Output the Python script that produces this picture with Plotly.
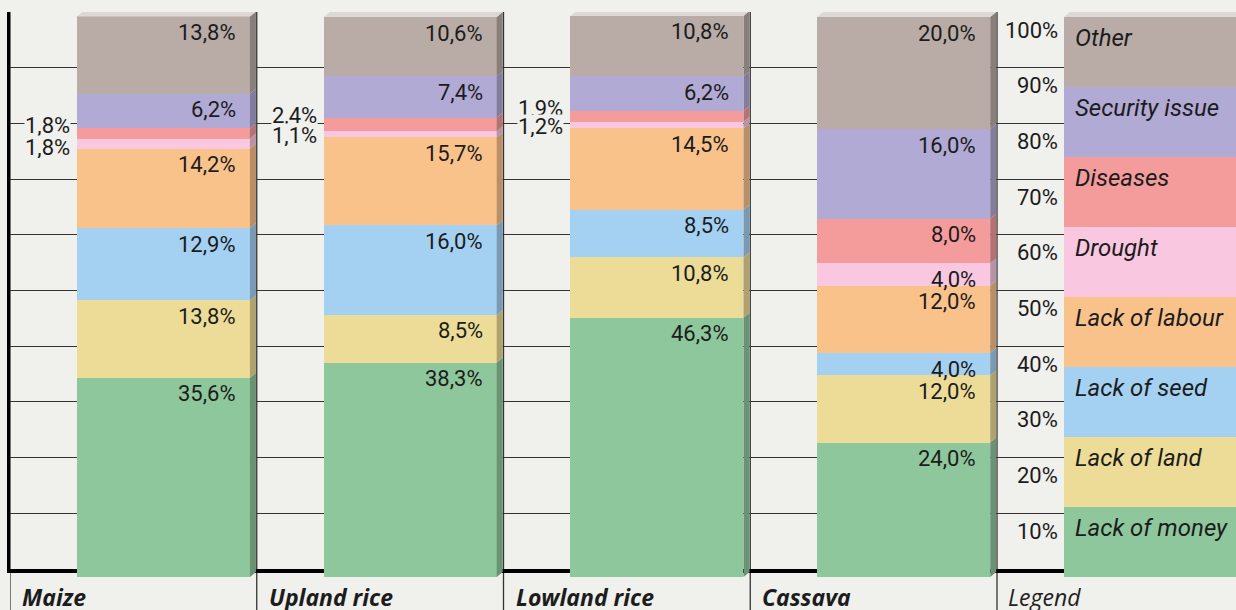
import plotly.graph_objects as go

# ---------------- data ----------------
crops = ["Maize", "Upland rice", "Lowland rice", "Cassava"]
causes = ["Lack of money", "Lack of land", "Lack of seed", "Lack of labour",
          "Drought", "Diseases", "Security issue", "Other"]
lack_of_money = [35.6, 38.3, 46.3, 24.0]
lack_of_land = [13.8, 8.5, 10.8, 12.0]
lack_of_seed = [12.9, 16.0, 8.5, 4.0]
lack_of_labour = [14.2, 15.7, 14.5, 12.0]
drought = [1.8, 1.1, 1.2, 4.0]
diseases = [1.8, 2.4, 1.9, 8.0]
security_issue = [6.2, 7.4, 6.2, 16.0]
other = [13.8, 10.6, 10.8, 20.0]
series = [lack_of_money, lack_of_land, lack_of_seed, lack_of_labour,
          drought, diseases, security_issue, other]
legend_share = [12.5] * 8
legend_ticks = [10, 20, 30, 40, 50, 60, 70, 80, 90, 100]

colors = ["#8ec79b", "#eddc97", "#a4d1f1", "#f9c28b",
          "#f9c7df", "#f49b9b", "#b1aad4", "#b9aba6"]
BG = "#f0f0ec"
TXT = "#1c1c1c"
FONT = "Roboto"
FONT_B = "Open Sans"

# ---------------- geometry (styling) ----------------
XMAX = 1226 / 246.75
BAR_C = 0.622
BAR_W = 0.701
DX = 0.0243
DY = 0.89


def darker(h, f=0.74):
    h = h.lstrip("#")
    r, g, b = (int(h[i:i + 2], 16) for i in (0, 2, 4))
    return "#%02x%02x%02x" % (int(r * f), int(g * f), int(b * f))


def fmt(v):
    return ("%.1f" % v).replace(".", ",") + "%"


xs = [i + BAR_C for i in range(len(crops) + 1)]

fig = go.Figure()
for k, name in enumerate(causes):
    fig.add_trace(go.Bar(
        x=xs, y=series[k] + [legend_share[k]], width=BAR_W, name=name,
        marker=dict(color=colors[k], line=dict(width=0)),
        xaxis="x", yaxis="y2", showlegend=False, hoverinfo="skip"))

shapes = []
annotations = []

# separators
for i in range(len(crops) + 1):
    shapes.append(dict(type="line", xref="x", yref="paper", x0=i, x1=i,
                       y0=-0.07, y1=1.0, line=dict(color="#333", width=1.3),
                       layer="below"))

all_cols = [[s[i] for s in series] for i in range(len(crops))] + [legend_share]
for i, col in enumerate(all_cols):
    xl = xs[i] - BAR_W / 2
    xr = xs[i] + BAR_W / 2
    cum = 0.0
    tops = []
    for k, v in enumerate(col):
        c0, c1 = cum, cum + v
        tops.append((c0, c1))
        shapes.append(dict(
            type="path", xref="x", yref="y2", layer="above", line=dict(width=0),
            fillcolor=darker(colors[k]),
            path="M %f,%f L %f,%f L %f,%f L %f,%f Z" % (
                xr, c0, xr + DX, c0 + DY, xr + DX, c1 + DY, xr, c1)))
        cum = c1
    # top face
    shapes.append(dict(
        type="path", xref="x", yref="y2", layer="above", line=dict(width=0),
        fillcolor="#dcd8d4",
        path="M %f,%f L %f,%f L %f,%f L %f,%f Z" % (
            xl, cum, xl + DX, cum + DY, xr + DX, cum + DY, xr, cum)))

    if i < len(crops):
        for k, v in enumerate(col):
            c0, c1 = tops[k]
            if v >= 3:
                annotations.append(dict(
                    xref="x", yref="y2", x=xr, y=c1, xanchor="right",
                    yanchor="middle", xshift=-12, yshift=-16, showarrow=False,
                    text=fmt(v), font=dict(family=FONT, size=22, color=TXT)))
        # small values placed outside on the left
        d_idx, dis_idx = 4, 5
        if col[dis_idx] < 3:
            annotations.append(dict(
                xref="x", yref="y2", x=xl, y=tops[dis_idx][1], xanchor="right",
                yanchor="middle", xshift=-6, yshift=3, showarrow=False,
                text=fmt(col[dis_idx]), bgcolor=BG, borderpad=0, height=22,
                font=dict(family=FONT, size=22, color=TXT)))
        if col[d_idx] < 3:
            annotations.append(dict(
                xref="x", yref="y2", x=xl, y=tops[d_idx][0], xanchor="right",
                yanchor="middle", xshift=-6, yshift=2, showarrow=False,
                text=fmt(col[d_idx]), bgcolor=BG, borderpad=0, height=22,
                font=dict(family=FONT, size=22, color=TXT)))
        annotations.append(dict(
            xref="x", yref="paper", x=i, y=-0.036, xanchor="left",
            yanchor="middle", xshift=10, showarrow=False,
            text="<b><i>%s</i></b>" % crops[i],
            font=dict(family=FONT_B, size=23, color=TXT)))
    else:
        for k, v in enumerate(col):
            c0, c1 = tops[k]
            annotations.append(dict(
                xref="x", yref="y2", x=xl, y=c1, xanchor="left",
                yanchor="middle", xshift=9, yshift=-21, showarrow=False,
                text="<i>%s</i>" % causes[k],
                font=dict(family=FONT, size=24, color=TXT)))
        for t in legend_ticks:
            annotations.append(dict(
                xref="x", yref="y", x=xl, y=t, xanchor="right",
                yanchor="middle", xshift=-4, yshift=-18, showarrow=False,
                text="%d%%" % t, font=dict(family=FONT, size=22, color=TXT)))
        annotations.append(dict(
            xref="x", yref="paper", x=i, y=-0.036, xanchor="left",
            yanchor="middle", xshift=9, showarrow=False,
            text="<i>Legend</i>", font=dict(family=FONT_B, size=23, color="#222")))

fig.update_layout(
    width=1236, height=610,
    margin=dict(l=10, r=0, t=12, b=33),
    paper_bgcolor=BG, plot_bgcolor="rgba(0,0,0,0)",
    barmode="stack", bargap=0, hovermode=False,
    xaxis=dict(range=[0, XMAX], showgrid=False, zeroline=False,
               showticklabels=False, ticks="", anchor="y",
               showline=True, linecolor="black", linewidth=4),
    yaxis=dict(domain=[8 / 565, 1], range=[0, 100], dtick=10, showgrid=True,
               gridcolor="#333", gridwidth=1.3, zeroline=False,
               showticklabels=False, ticks="", anchor="x",
               showline=True, linecolor="black", linewidth=3),
    yaxis2=dict(domain=[0, 1], range=[0, 565 / 5.6], showgrid=False,
                zeroline=False, showticklabels=False, ticks="", anchor="x"),
    shapes=shapes, annotations=annotations,
)

fig.write_html(
    "out.html",
    config={"displayModeBar": False},
    post_script="document.body.style.margin='0px';"
                "document.body.style.overflow='hidden';"
                "document.body.style.background='%s';" % BG,
)
